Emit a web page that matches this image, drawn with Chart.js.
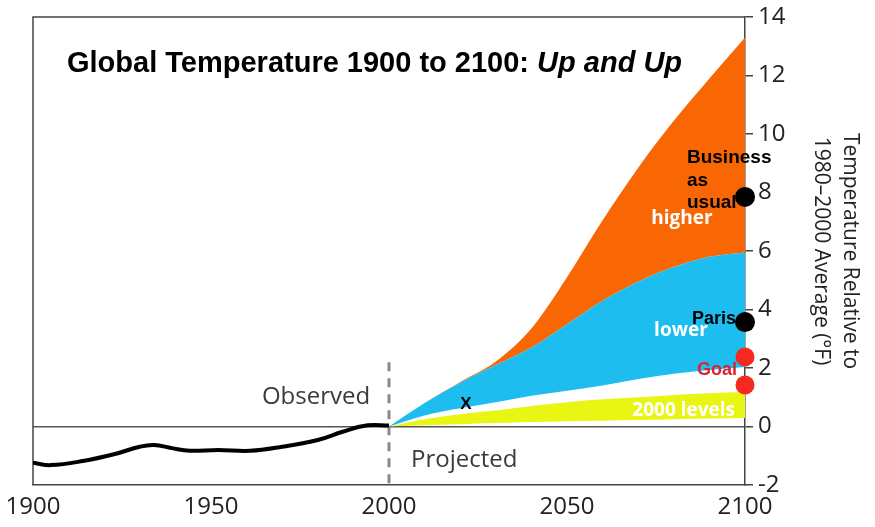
<!DOCTYPE html>
<html>
<head>
<meta charset="utf-8">
<title>Global Temperature 1900 to 2100</title>
<script src="https://cdn.jsdelivr.net/npm/chart.js@4.4.0/dist/chart.umd.min.js"></script>
<style>
    html, body { margin: 0; padding: 0; background: #fff; }
    #wrap { width: 875px; height: 527px; }
</style>
</head>
<body>
<div id="wrap"><canvas id="tempChart" width="875" height="527"></canvas></div>
<script>
// Observed record (deg F vs 1980-2000 average)
const observedYears = [1900, 1905, 1914, 1923, 1930, 1934, 1939, 1944, 1952, 1961, 1970, 1980, 1987, 1994, 2000];
const observedTemps = [-1.24, -1.32, -1.18, -0.94, -0.69, -0.63, -0.74, -0.83, -0.80, -0.83, -0.69, -0.46, -0.18, 0.04, 0.03];

// Projection bands
const projYears = [2000, 2010, 2020, 2030, 2040, 2050, 2060, 2070, 2080, 2090, 2100];
const levelsLow = [0, 0.04, 0.08, 0.12, 0.15, 0.18, 0.20, 0.22, 0.25, 0.27, 0.29];
const levelsHigh = [0, 0.25, 0.42, 0.55, 0.70, 0.83, 0.93, 1.00, 1.08, 1.14, 1.18];
const lowerLow = [0, 0.38, 0.62, 0.83, 1.05, 1.22, 1.40, 1.62, 1.80, 1.93, 2.03];
const lowerHigh = [0, 0.80, 1.50, 2.10, 2.70, 3.50, 4.30, 4.95, 5.45, 5.80, 5.95];
const higherHigh = [0, 0.80, 1.52, 2.22, 3.35, 5.10, 7.05, 8.85, 10.45, 11.90, 13.30];

// Markers at 2100: business as usual, Paris, goal range
const markerYear = 2100;
const markerTemps = [7.85, 3.57, 2.38, 1.42];

// Observed / projected divider
const dividerYear = 2000;
const dividerRange = [2.2, -2];

// Axis ticks
const xTicks = [1900, 1950, 2000, 2050, 2100];
const yTicks = [-2, 0, 2, 4, 6, 8, 10, 12, 14];

(function() {
    'use strict';

    const COLORS = {
        orange: '#F96705',
        blue: '#1DBDF0',
        yellow: '#E9F513',
        black: '#000000',
        red: '#F5291F',
        goalText: '#E0202A',
        axis: '#444444',
        divider: '#8A8A8A',
        text: '#222222',
        soft: '#3A3A3A'
    };

    const SANS = '"Open Sans", sans-serif';
    const ARIAL = '"Liberation Sans", Arial, sans-serif';

    function pts(xs, ys) {
        return xs.map((x, i) => ({ x: x, y: ys[i] }));
    }

    function band(data, color, fill) {
        return {
            data: data,
            borderWidth: 0,
            borderColor: 'transparent',
            backgroundColor: color,
            pointRadius: 0,
            fill: fill,
            cubicInterpolationMode: 'monotone'
        };
    }

    /**
     * Frame lines on top and left of the plot area
     */
    const framePlugin = {
        id: 'frame',
        beforeDatasetsDraw: function(chart) {
            const a = chart.chartArea;
            const ctx = chart.ctx;
            ctx.save();
            ctx.strokeStyle = COLORS.axis;
            ctx.lineWidth = 1.5;
            ctx.beginPath();
            ctx.moveTo(a.left, a.bottom);
            ctx.lineTo(a.left, a.top);
            ctx.lineTo(a.right, a.top);
            ctx.stroke();
            ctx.restore();
        }
    };

    /**
     * Title and text labels, drawn under the marker dots
     */
    const labelsPlugin = {
        id: 'labels',
        beforeDatasetDraw: function(chart, args) {
            if (args.index !== 0) return;
            const ctx = chart.ctx;
            const xs = chart.scales.x;
            const ys = chart.scales.y;
            const a = chart.chartArea;

            function put(text, year, val, font, color, align) {
                ctx.font = font;
                ctx.fillStyle = color;
                ctx.textAlign = align || 'left';
                ctx.textBaseline = 'middle';
                ctx.fillText(text, xs.getPixelForValue(year), ys.getPixelForValue(val));
            }

            ctx.save();

            // chart title, bold with italic tail
            const tx = a.left + 34;
            const ty = a.top + 55;
            ctx.textBaseline = 'alphabetic';
            ctx.textAlign = 'left';
            ctx.fillStyle = COLORS.black;
            ctx.font = 'bold 29px ' + ARIAL;
            const head = 'Global Temperature 1900 to 2100: ';
            ctx.fillText(head, tx, ty);
            const w = ctx.measureText(head).width;
            ctx.font = 'italic bold 29px ' + ARIAL;
            ctx.fillText('Up and Up', tx + w, ty);

            put('Observed', 1994.7, 1.0, '24px ' + SANS, COLORS.soft, 'right');
            put('Projected', 2006.2, -1.15, '24px ' + SANS, COLORS.soft, 'left');
            put('X', 2021.6, 0.77, 'bold 17px ' + ARIAL, COLORS.black, 'center');
            put('2000 levels', 2097.2, 0.56, 'bold 19px ' + SANS, '#ffffff', 'right');
            put('lower', 2082, 3.27, 'bold 19px ' + SANS, '#ffffff', 'center');
            put('higher', 2082.3, 7.1, 'bold 19px ' + SANS, '#ffffff', 'center');
            put('Goal', 2097.75, 1.93, 'bold 18px ' + ARIAL, COLORS.goalText, 'right');
            put('Paris', 2097.5, 3.68, 'bold 18px ' + ARIAL, COLORS.black, 'right');
            put('Business', 2083.7, 9.18, 'bold 19px ' + ARIAL, COLORS.black, 'left');
            put('as', 2083.7, 8.39, 'bold 19px ' + ARIAL, COLORS.black, 'left');
            put('usual', 2083.7, 7.64, 'bold 19px ' + ARIAL, COLORS.black, 'left');

            ctx.restore();
        }
    };

    function initChart() {
        const canvas = document.getElementById('tempChart');
        if (!canvas) return;
        const ctx = canvas.getContext('2d');

        new Chart(ctx, {
            type: 'line',
            data: {
                datasets: [
                    {
                        // 0: marker dots
                        data: markerTemps.map(t => ({ x: markerYear, y: t })),
                        showLine: false,
                        pointRadius: [10, 10, 9.5, 9.5],
                        pointBackgroundColor: [COLORS.black, COLORS.black, COLORS.red, COLORS.red],
                        pointBorderWidth: 0,
                        clip: false
                    },
                    {
                        // 1: observed line
                        data: pts(observedYears, observedTemps),
                        borderColor: COLORS.black,
                        borderWidth: 4,
                        pointRadius: 0,
                        tension: 0.4,
                        fill: false
                    },
                    {
                        // 2: dashed divider
                        data: dividerRange.map(v => ({ x: dividerYear, y: v })),
                        borderColor: COLORS.divider,
                        borderWidth: 3,
                        borderDash: [9, 7],
                        pointRadius: 0,
                        fill: false,
                        clip: false
                    },
                    band(pts(projYears, levelsLow), 'transparent', false),
                    band(pts(projYears, levelsHigh), COLORS.yellow, '-1'),
                    band(pts(projYears, lowerLow), 'transparent', false),
                    band(pts(projYears, lowerHigh), COLORS.blue, '-1'),
                    band(pts(projYears, higherHigh), COLORS.orange, '-1')
                ]
            },
            options: {
                responsive: false,
                animation: false,
                layout: {
                    padding: { top: 17, left: 33, right: 0, bottom: 0 }
                },
                plugins: {
                    legend: { display: false },
                    tooltip: { enabled: false }
                },
                scales: {
                    x: {
                        type: 'linear',
                        min: 1900,
                        max: 2100,
                        afterBuildTicks: function(scale) {
                            scale.ticks = xTicks.map(v => ({ value: v }));
                        },
                        afterFit: function(scale) {
                            scale.height = 42;
                            scale.paddingLeft = 0;
                            scale.paddingRight = 0;
                        },
                        grid: { display: false, drawTicks: false },
                        border: { display: true, color: COLORS.axis, width: 1.5 },
                        ticks: {
                            padding: 8,
                            maxRotation: 0,
                            color: COLORS.text,
                            font: { family: SANS, size: 24 },
                            callback: v => String(v)
                        }
                    },
                    y: {
                        type: 'linear',
                        position: 'right',
                        min: -2,
                        max: 14,
                        afterBuildTicks: function(scale) {
                            scale.ticks = yTicks.map(v => ({ value: v }));
                        },
                        afterFit: function(scale) {
                            scale.width = 130;
                            scale.paddingTop = 0;
                            scale.paddingBottom = 0;
                        },
                        grid: {
                            drawOnChartArea: true,
                            color: c => (c.tick && c.tick.value === 0) ? '#555555' : 'transparent',
                            lineWidth: 1.5,
                            tickColor: COLORS.axis,
                            tickLength: 8
                        },
                        border: { display: true, color: COLORS.axis, width: 1.5 },
                        ticks: {
                            padding: 5,
                            color: COLORS.text,
                            font: { family: SANS, size: 24 },
                            callback: v => String(v)
                        },
                        title: {
                            display: true,
                            text: ['Temperature Relative to', '1980\u20132000 Average (\u00B0F)'],
                            color: COLORS.text,
                            font: { family: SANS, size: 21, lineHeight: 1.4 },
                            padding: { top: 10, bottom: 0 }
                        }
                    }
                }
            },
            plugins: [framePlugin, labelsPlugin]
        });
    }

    if (document.readyState === 'loading') {
        document.addEventListener('DOMContentLoaded', initChart);
    } else {
        initChart();
    }
})();
</script>
</body>
</html>
